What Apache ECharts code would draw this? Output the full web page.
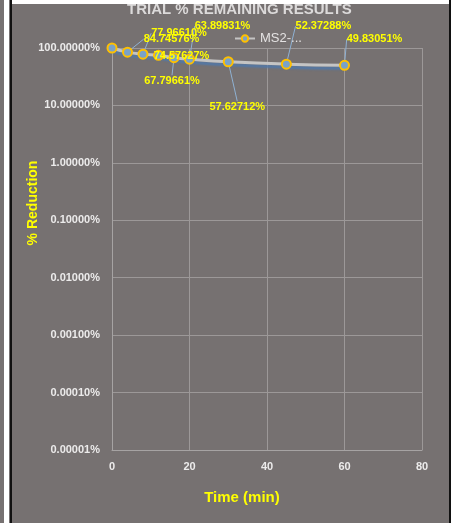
<!DOCTYPE html>
<html>
<head>
<meta charset="utf-8">
<script src="https://cdn.jsdelivr.net/npm/echarts@6/dist/echarts.min.js"></script>
<style>
html,body{margin:0;padding:0;background:#767171;}
#chart{width:451px;height:523px;}
</style>
</head>
<body>
<div id="chart"></div>
<script>
// Data
var titleText = 'TRIAL % REMAINING RESULTS';
var seriesName = 'MS2-...';
var times = [0, 4, 8, 12, 16, 20, 30, 45, 60];
var remaining = [100, 84.74576, 77.96610, 74.57627, 67.79661, 63.89831, 57.62712, 52.37288, 49.83051];
var showLabel = [false, true, true, true, true, true, true, true, true];
var xTicks = [0, 20, 40, 60, 80];
var yTicks = [0.00001, 0.0001, 0.001, 0.01, 0.1, 1, 10, 100];

// label offsets (layout, px) relative to point
var labelOffsets = [[0,0],[44,-13],[36,-21],[23,1],[-2,23],[33,-33],[9,45],[37,-38],[30,-26]];

var FONT = '"Liberation Sans", Arial, sans-serif';
var data = times.map(function (t, i) {
  return { value: [t, remaining[i]], label: { show: showLabel[i] } };
});

var chart = echarts.init(document.getElementById('chart'), null, { renderer: 'canvas' });
chart.setOption({
  backgroundColor: '#767171',
  animation: false,
  textStyle: { fontFamily: FONT },
  title: {
    text: titleText,
    left: 122,
    top: -3,
    textStyle: { color: '#dcdada', fontSize: 15, fontWeight: 'bold', fontFamily: FONT }
  },
  legend: {
    left: 229,
    top: 27,
    itemWidth: 20,
    itemHeight: 8,
    itemGap: 4,
    textStyle: { color: '#e4e2e2', fontSize: 13, fontFamily: FONT },
    data: [seriesName]
  },
  grid: { left: 112, right: 29, top: 48, bottom: 73, containLabel: false },
  xAxis: {
    type: 'value',
    min: xTicks[0],
    max: xTicks[xTicks.length - 1],
    interval: xTicks[1] - xTicks[0],
    name: 'Time (min)',
    nameLocation: 'middle',
    nameGap: 40,
    nameMoveOverlap: false,
    nameTextStyle: { color: '#ffff00', fontSize: 15, fontWeight: 'bold', fontFamily: FONT, padding: [0, 50, 0, 0] },
    axisLine: { show: true, lineStyle: { color: '#a6a3a3', width: 1 } },
    axisTick: { show: false },
    axisLabel: { color: '#ecebeb', fontSize: 11, fontWeight: 'bold', margin: 11, fontFamily: FONT },
    splitLine: { show: true, lineStyle: { color: '#9c9898', width: 1 } }
  },
  yAxis: {
    type: 'log',
    logBase: 10,
    min: yTicks[0],
    max: yTicks[yTicks.length - 1],
    interval: 1,
    name: '% Reduction',
    nameLocation: 'middle',
    nameGap: 72,
    nameMoveOverlap: false,
    nameTextStyle: { color: '#ffff00', fontSize: 14, fontWeight: 'bold', fontFamily: FONT, padding: [0, 0, 0, 92] },
    axisLine: { show: true, lineStyle: { color: '#a6a3a3', width: 1 } },
    axisTick: { show: false },
    axisLabel: {
      color: '#ecebeb', fontSize: 11, fontWeight: 'bold', margin: 12, fontFamily: FONT,
      formatter: function (v) { return v.toFixed(5) + '%'; }
    },
    splitLine: { show: true, lineStyle: { color: '#9c9898', width: 1 } }
  },
  series: [{
    name: seriesName,
    type: 'line',
    smooth: true,
    data: data,
    symbol: 'circle',
    symbolSize: 9,
    itemStyle: { color: '#7aa2c8', borderColor: '#ffc000', borderWidth: 2 },
    lineStyle: {
      color: '#c4c4c4', width: 3,
      shadowColor: 'rgba(80,120,170,0.95)', shadowBlur: 2, shadowOffsetY: 3
    },
    label: {
      show: true,
      position: 'inside',
      color: '#ffff00',
      fontSize: 11,
      fontWeight: 'bold',
      fontFamily: FONT,
      formatter: function (p) { return p.value[1].toFixed(5) + '%'; }
    },
    labelLine: { show: true, lineStyle: { color: '#8fb1d3', width: 1 } },
    labelLayout: function (p) {
      var o = labelOffsets[p.dataIndex];
      return { dx: o[0], dy: o[1] };
    },
    z: 3
  }],
  graphic: [
    { type: 'rect', z: 100, shape: { x: 0, y: 0, width: 4, height: 523 }, style: { fill: '#767171' } },
    { type: 'rect', z: 100, shape: { x: 4, y: 0, width: 5, height: 523 }, style: { fill: '#ffffff' } },
    { type: 'rect', z: 100, shape: { x: 9, y: 0, width: 1, height: 523 }, style: { fill: '#767171' } },
    { type: 'rect', z: 100, shape: { x: 10, y: 0, width: 2, height: 523 }, style: { fill: '#111111' } },
    { type: 'rect', z: 100, shape: { x: 12, y: 0, width: 437, height: 4 }, style: { fill: '#ffffff' } },
    { type: 'rect', z: 100, shape: { x: 449, y: 0, width: 2, height: 523 }, style: { fill: '#111111' } }
  ]
});
</script>
</body>
</html>
